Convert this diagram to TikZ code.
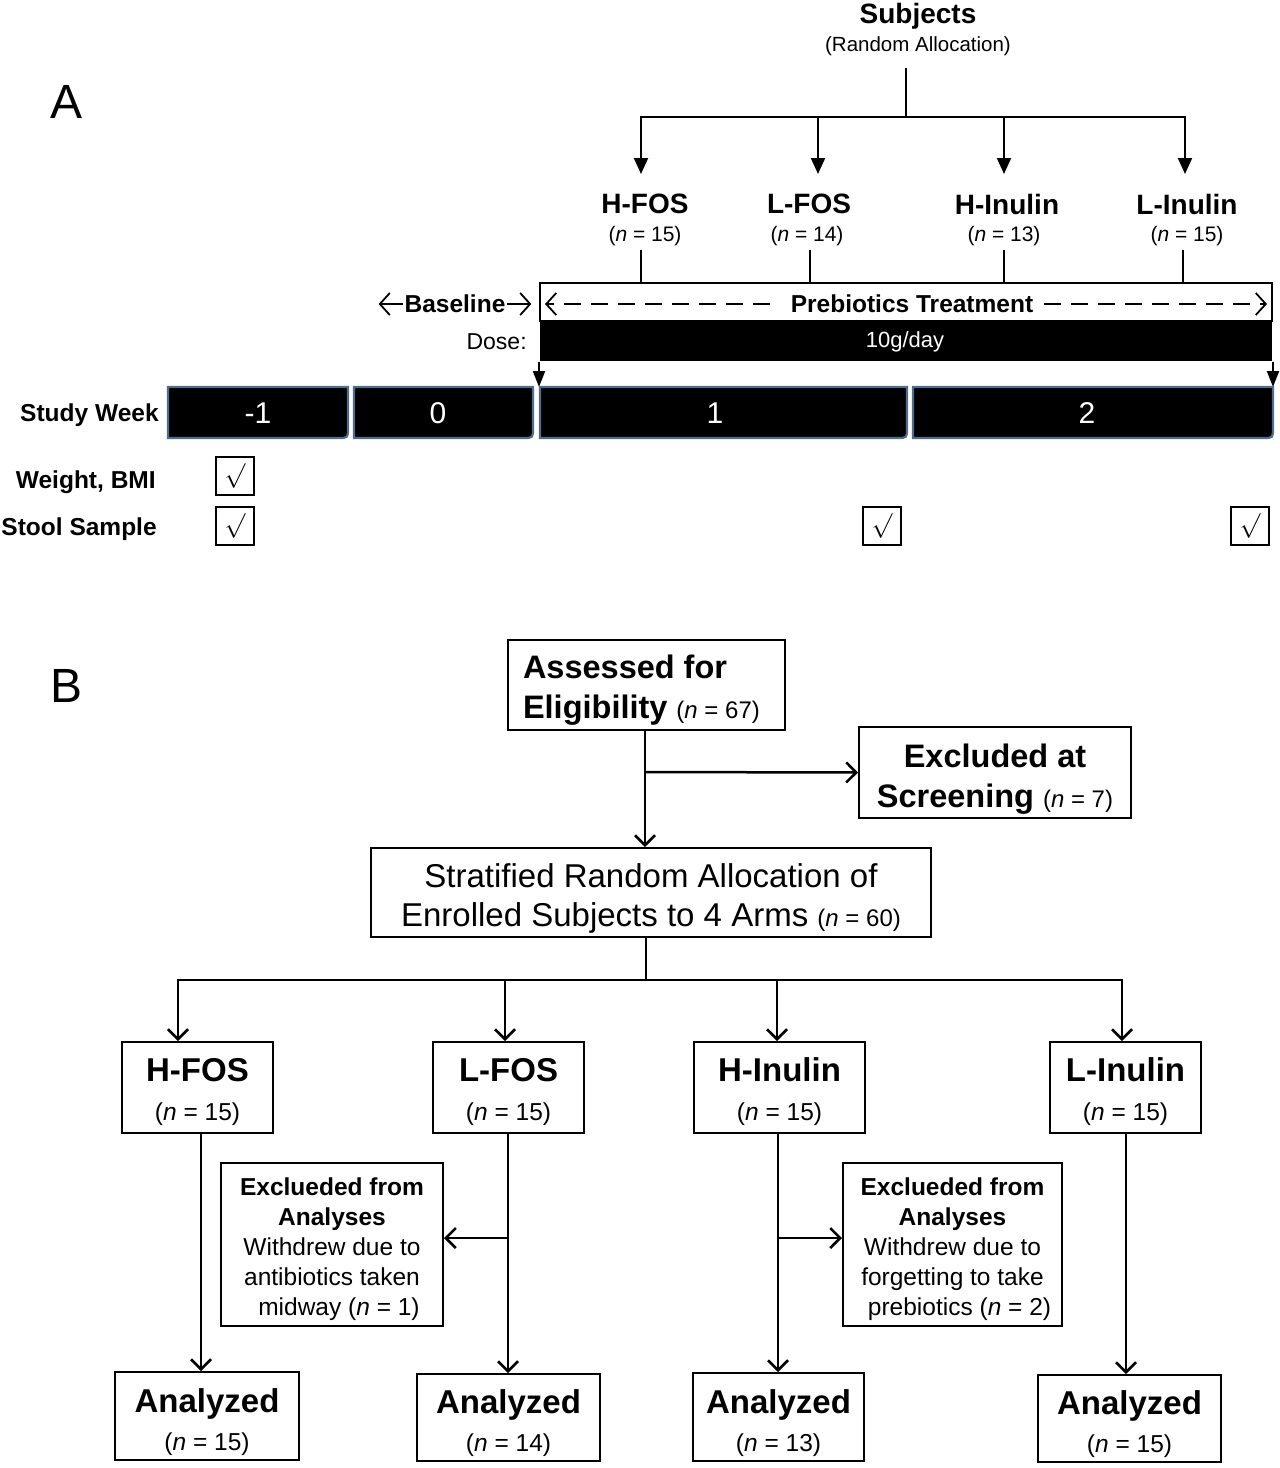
\documentclass[tikz,border=0pt]{standalone}
\usepackage{fontspec}
\setmainfont{Liberation Sans}
\usetikzlibrary{arrows.meta}
\newcommand\fsz[2]{\fontsize{#1}{#2}\selectfont}
\newcommand\nn[1]{(\textit{n} = #1)}
\newcommand\tstrut[1]{\rule{0pt}{#1}}
\definecolor{barblue}{RGB}{80,110,140}
\begin{document}
\begin{tikzpicture}[x=1pt,y=-1pt,line width=2pt,
  tri/.style={-{Triangle[length=16pt,width=14pt]}},
  smalltri/.style={-{Triangle[length=16pt,width=12pt]}},
  barb/.style={line width=2.5pt,-{Straight Barb[length=10pt,width=20pt]}},
  obarb/.style={line width=1.8pt,-{Straight Barb[length=10pt,width=22pt]}},
  gA/.style={font=\bfseries\fsz{28}{32}},
  nA/.style={font=\fsz{21}{24}},
  wk/.style={text=white,font=\fsz{30}{34}},
  side/.style={anchor=east,font=\bfseries\fsz{24.5}{28}},
  chk/.style={draw,line width=2pt,minimum size=38pt,inner sep=0pt},
  weekbar/.style={fill=black,draw=barblue,line width=2.2pt},
  box/.style={draw,line width=2pt,inner sep=0pt,align=center},
  panel/.style={font=\fsz{48}{50}}
]
\useasboundingbox (0,0) rectangle (1280,1468);
% ================= Panel A =================
\node[panel] (lblA) at (67,102) {A};
\node[font=\bfseries\fsz{28}{32}] (subj) at (918,16) {Subjects};
\node[font=\fsz{20.5}{24}] (ralloc) at (918,46) {(Random Allocation)};
\coordinate (topA) at (906,68);
\coordinate (hubA) at (906,117);
\draw (topA) -- (hubA);
\coordinate (a1) at (641,174);
\coordinate (a2) at (818,174);
\coordinate (a3) at (1004,174);
\coordinate (a4) at (1185,174);
\draw[tri] (hubA) -| (a1);
\draw[tri] (hubA) -| (a2);
\draw[tri] (hubA) -| (a3);
\draw[tri] (hubA) -| (a4);
\node[gA] (ga1) at (645,204) {H-FOS};
\node[gA] (ga2) at (809,204) {L-FOS};
\node[gA] (ga3) at (1007,204) {H-Inulin};
\node[gA] (ga4) at (1187,204) {L-Inulin};
\node[nA] (na1) at (645,236) {\nn{15}};
\node[nA] (na2) at (807,236) {\nn{14}};
\node[nA] (na3) at (1004,236) {\nn{13}};
\node[nA] (na4) at (1187,236) {\nn{15}};
% treatment box and dose bar
\node[draw,line width=2pt,minimum width=732pt,minimum height=38pt,inner sep=0pt,anchor=north west] (treat) at (539,282) {};
\node[fill=black,minimum width=732pt,minimum height=40pt,inner sep=0pt,anchor=north west] (dose) at (539,320) {};
\node[text=white,font=\fsz{22}{26}] (dosetxt) at (905,342) {10g/day};
\coordinate (t1) at (641,250);
\coordinate (t2) at (810,250);
\coordinate (t3) at (1004,250);
\coordinate (t4) at (1183,250);
\draw (t1) -- (t1 |- treat.north);
\draw (t2) -- (t2 |- treat.north);
\draw (t3) -- (t3 |- treat.north);
\draw (t4) -- (t4 |- treat.north);
\node[font=\bfseries\fsz{24.5}{28},inner sep=0pt] (ptreat) at (912,304) {Prebiotics Treatment};
\draw[obarb,dash pattern=on 17pt off 10pt,shorten <=20pt,shorten >=6pt] (ptreat.west) -- (ptreat.west -| treat.west);
\draw[obarb,dash pattern=on 17pt off 10pt,shorten <=10pt,shorten >=6pt] (ptreat.east) -- (ptreat.east -| treat.east);
\node[font=\bfseries\fsz{24.5}{28},inner sep=1pt] (base) at (455,304) {Baseline};
\draw[obarb] (base.west) -- ++(-24,0);
\draw[obarb] (base.east) -- ++(24,0);
\node[anchor=east,font=\fsz{23}{26}] (doselbl) at (531,342) {Dose:};
% week bars
\coordinate (w3nw) at (540,387);
\coordinate (w4ne) at (1273,387);
\draw[smalltri] (dose.south west) -- (w3nw -| dose.south west);
\draw[smalltri] (dose.south east) -- (w4ne -| dose.south east);
\draw[weekbar] (168,387) -- (348,387) -- (348,428) .. controls (348,438) .. (338,438) -- (168,438) -- cycle;
\draw[weekbar] (354,387) -- (533,387) -- (533,428) .. controls (533,438) .. (523,438) -- (354,438) -- cycle;
\draw[weekbar] (540,387) -- (907,387) -- (907,428) .. controls (907,438) .. (897,438) -- (540,438) -- cycle;
\draw[weekbar] (913,387) -- (1273,387) -- (1273,428) .. controls (1273,438) .. (1263,438) -- (913,438) -- cycle;
\node[wk] (wkm1) at (258,413) {-1};
\node[wk] (wk0) at (438,413) {0};
\node[wk] (wk1) at (715,413) {1};
\node[wk] (wk2) at (1087,413) {2};
\node[side] (sw) at (163,415) {Study Week};
\node[side] (wb) at (160,482) {Weight, BMI};
\node[side] (ss) at (161,529) {Stool Sample};
\node[chk] (c1) at (235,476) {\fsz{32}{34}$\surd$};
\node[chk] (c2) at (235,526) {\fsz{32}{34}$\surd$};
\node[chk] (c3) at (882,526) {\fsz{32}{34}$\surd$};
\node[chk] (c4) at (1250,526) {\fsz{32}{34}$\surd$};
% ================= Panel B =================
\node[panel] (lblB) at (67,686) {B};
\node[draw,line width=2pt,inner xsep=15pt,inner ysep=0pt,text width=247pt,minimum height=90pt,align=flush left,font=\bfseries\fsz{32.5}{40}] (assess) at (646.5,685) {\tstrut{34pt}Assessed for\\Eligibility {\mdseries\fsz{24}{40}\nn{67}}};
\node[box,minimum width=272pt,minimum height=91pt,font=\bfseries\fsz{32.5}{40}] (excl) at (995,772.5) {\tstrut{36pt}Excluded at\\Screening {\mdseries\fsz{24}{40}\nn{7}}};
\node[box,minimum width=560pt,minimum height=89pt,font=\fsz{33}{39}] (strat) at (651,892.5) {\tstrut{36pt}Stratified Random Allocation of\\Enrolled Subjects to 4 Arms {\fsz{24}{39}\nn{60}}};
\coordinate (split) at (645,772);
\draw[barb] (assess.south -| split) -- (split |- strat.north);
\draw[barb] (split) -- (excl.west);
\coordinate (hubB) at (646,980);
\draw (strat.south -| hubB) -- (hubB);
\node[box,minimum width=151pt,minimum height=91pt,font=\fsz{33}{39}] (g1) at (197.5,1087.5) {\tstrut{32pt}\textbf{H-FOS}\\{\fsz{24.5}{39}\nn{15}}};
\node[box,minimum width=151pt,minimum height=91pt,font=\fsz{33}{39}] (g2) at (508.5,1087.5) {\tstrut{32pt}\textbf{L-FOS}\\{\fsz{24.5}{39}\nn{15}}};
\node[box,minimum width=171pt,minimum height=91pt,font=\fsz{33}{39}] (g3) at (779.5,1087.5) {\tstrut{32pt}\textbf{H-Inulin}\\{\fsz{24.5}{39}\nn{15}}};
\node[box,minimum width=151pt,minimum height=91pt,font=\fsz{33}{39}] (g4) at (1125.5,1087.5) {\tstrut{32pt}\textbf{L-Inulin}\\{\fsz{24.5}{39}\nn{15}}};
\draw[barb] (hubB) -| ([xshift=-19.5pt]g1.north);
\draw[barb] (hubB) -| ([xshift=-3.5pt]g2.north);
\draw[barb] (hubB) -| ([xshift=-2.5pt]g3.north);
\draw[barb] (hubB) -| ([xshift=-3.5pt]g4.north);
\node[box,minimum width=222pt,minimum height=163pt,font=\fsz{24.5}{30}] (ex1) at (332,1244.5) {\tstrut{28pt}\textbf{Exclueded from}\\\textbf{Analyses}\\Withdrew due to\\antibiotics taken\\\hspace{14pt}midway \nn{1}};
\node[box,minimum width=219pt,minimum height=163pt,font=\fsz{24.5}{30}] (ex2) at (952.5,1244.5) {\tstrut{28pt}\textbf{Exclueded from}\\\textbf{Analyses}\\Withdrew due to\\forgetting to take\\\hspace{14pt}prebiotics \nn{2}};
\node[box,minimum width=184pt,minimum height=88pt,font=\fsz{33}{38}] (an1) at (207,1416) {\tstrut{36pt}\textbf{Analyzed}\\{\fsz{24.5}{38}\nn{15}}};
\node[box,minimum width=183pt,minimum height=87pt,font=\fsz{33}{38}] (an2) at (508.5,1417.5) {\tstrut{36pt}\textbf{Analyzed}\\{\fsz{24.5}{38}\nn{14}}};
\node[box,minimum width=171pt,minimum height=88pt,font=\fsz{33}{38}] (an3) at (778.5,1417) {\tstrut{36pt}\textbf{Analyzed}\\{\fsz{24.5}{38}\nn{13}}};
\node[box,minimum width=183pt,minimum height=87pt,font=\fsz{33}{38}] (an4) at (1129.5,1418.5) {\tstrut{36pt}\textbf{Analyzed}\\{\fsz{24.5}{38}\nn{15}}};
\coordinate (v1) at (201,1133);
\coordinate (v2) at (508,1133);
\coordinate (v3) at (778,1133);
\coordinate (v4) at (1126,1133);
\draw[barb] (v1 |- g1.south) -- (v1 |- an1.north);
\draw[barb] (v2 |- g2.south) -- (v2 |- an2.north);
\draw[barb] (v3 |- g3.south) -- (v3 |- an3.north);
\draw[barb] (v4 |- g4.south) -- (v4 |- an4.north);
\coordinate (s1) at (508,1238);
\coordinate (s2) at (778,1238);
\draw[barb] (s1) -- (s1 -| ex1.east);
\draw[barb] (s2) -- (s2 -| ex2.west);
\end{tikzpicture}
\end{document}
